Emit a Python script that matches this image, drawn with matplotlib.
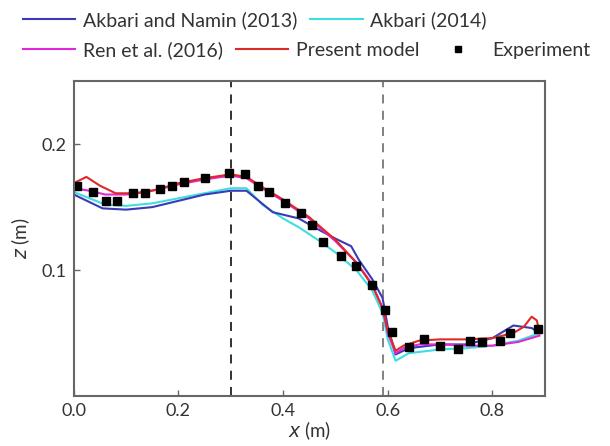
import matplotlib
matplotlib.use("Agg")
import matplotlib.pyplot as plt
from matplotlib.lines import Line2D

plt.rcParams['font.family'] = ['Lato', 'DejaVu Sans']

# experiment
exp_x = [0.007, 0.037, 0.061, 0.083, 0.114, 0.137, 0.165, 0.187, 0.21, 0.25,
         0.296, 0.328, 0.352, 0.373, 0.404, 0.434, 0.456, 0.477, 0.51, 0.539,
         0.57, 0.594, 0.608, 0.64, 0.67, 0.70, 0.735, 0.758, 0.78, 0.815,
         0.834, 0.888]
exp_z = [0.167, 0.162, 0.155, 0.155, 0.161, 0.161, 0.164, 0.167, 0.170, 0.173,
         0.177, 0.176, 0.167, 0.162, 0.153, 0.145, 0.136, 0.122, 0.111, 0.103,
         0.088, 0.068, 0.051, 0.039, 0.045, 0.040, 0.037, 0.044, 0.043, 0.044,
         0.050, 0.053]

# present model
pm_x = [0, 0.024, 0.05, 0.08, 0.12, 0.16, 0.2, 0.25, 0.3, 0.33, 0.36, 0.4,
        0.45, 0.5, 0.54, 0.57, 0.59, 0.6, 0.615, 0.63, 0.66, 0.7, 0.75, 0.8,
        0.84, 0.86, 0.875, 0.885, 0.89]
pm_z = [0.169, 0.174, 0.167, 0.161, 0.161, 0.164, 0.169, 0.173, 0.176, 0.174,
        0.166, 0.156, 0.142, 0.124, 0.106, 0.088, 0.070, 0.052, 0.036, 0.040,
        0.044, 0.045, 0.045, 0.046, 0.050, 0.055, 0.063, 0.060, 0.050]

# Ren et al. (2016)
ren_x = [0, 0.03, 0.06, 0.1, 0.15, 0.2, 0.25, 0.3, 0.33, 0.36, 0.4, 0.45, 0.5,
         0.54, 0.57, 0.59, 0.6, 0.615, 0.63, 0.66, 0.7, 0.75, 0.8, 0.85, 0.89]
ren_z = [0.165, 0.163, 0.160, 0.160, 0.163, 0.168, 0.172, 0.175, 0.173, 0.165,
         0.155, 0.141, 0.123, 0.106, 0.089, 0.070, 0.050, 0.034, 0.038, 0.041,
         0.041, 0.040, 0.040, 0.043, 0.048]

# Akbari and Namin (2013)
an_x = [0, 0.03, 0.055, 0.1, 0.15, 0.2, 0.25, 0.3, 0.33, 0.38, 0.43, 0.455,
        0.5, 0.53, 0.545, 0.57, 0.59, 0.6, 0.615, 0.64, 0.7, 0.75, 0.8, 0.84,
        0.875, 0.89]
an_z = [0.160, 0.154, 0.149, 0.148, 0.150, 0.155, 0.160, 0.163, 0.163, 0.146,
        0.141, 0.135, 0.125, 0.119, 0.108, 0.093, 0.078, 0.055, 0.033, 0.038,
        0.041, 0.041, 0.046, 0.056, 0.054, 0.050]

# Akbari (2014)
ak_x = [0, 0.03, 0.06, 0.1, 0.15, 0.2, 0.25, 0.3, 0.33, 0.36, 0.4, 0.43, 0.47,
        0.5, 0.54, 0.57, 0.59, 0.6, 0.615, 0.64, 0.7, 0.75, 0.8, 0.85, 0.89]
ak_z = [0.162, 0.157, 0.152, 0.151, 0.153, 0.157, 0.161, 0.165, 0.165, 0.152,
        0.141, 0.134, 0.123, 0.114, 0.100, 0.084, 0.066, 0.045, 0.028, 0.034,
        0.037, 0.038, 0.040, 0.044, 0.050]

vlines_x = [0.3, 0.59]
xticks = [0.0, 0.2, 0.4, 0.6, 0.8]
yticks = [0.1, 0.2]

c_blue = '#3a3ab8'
c_cyan = '#3fdede'
c_mag = '#e028d8'
c_red = '#e02828'
txt = '#333333'

fig = plt.figure(figsize=(6.1, 4.46), dpi=100)
ax = fig.add_axes([0.121, 0.112, 0.772, 0.706])

ax.axvline(vlines_x[0], color='#222222', ls=(0, (5, 4)), lw=1.3, zorder=1)
ax.axvline(vlines_x[1], color='#777777', ls=(0, (5, 4)), lw=1.3, zorder=1)

l_ak, = ax.plot(ak_x, ak_z, color=c_cyan, lw=1.5)
l_an, = ax.plot(an_x, an_z, color=c_blue, lw=1.5)
l_ren, = ax.plot(ren_x, ren_z, color=c_mag, lw=1.5)
l_pm, = ax.plot(pm_x, pm_z, color=c_red, lw=1.5)
l_exp, = ax.plot(exp_x, exp_z, ls='none', marker='s', ms=6, color='black')

ax.set_xlim(0, 0.9)
ax.set_ylim(0, 0.25)
ax.set_xticks(xticks)
ax.set_xticklabels(['%.1f' % v for v in xticks])
ax.set_yticks(yticks)
ax.set_yticklabels(['%.1f' % v for v in yticks])
ax.tick_params(direction='in', length=4, width=1, colors='#666666',
               labelcolor=txt, labelsize=13, pad=5)
for s in ax.spines.values():
    s.set_color('#666666')
    s.set_linewidth(1.5)

ax.set_xlabel('$\\mathit{x}$ (m)', fontsize=13.5, color=txt, labelpad=0)
ax.set_ylabel('$\\mathit{z}$ (m)', fontsize=13.5, color=txt, labelpad=7)

h_exp = Line2D([], [], ls='none', marker='s', ms=5, color='black')
leg_kw = dict(loc='upper left', frameon=False, fontsize=14, handlelength=2.7,
              handletextpad=0.4, columnspacing=0.65, borderpad=0.2)
leg1 = fig.legend([l_an, l_ak], ['Akbari and Namin (2013)', 'Akbari (2014)'],
                  bbox_to_anchor=(0.015, 1.005), ncol=2, **leg_kw)
leg2 = fig.legend([l_ren, l_pm, h_exp], ['Ren et al. (2016)', 'Present model', 'Experiment'],
                  bbox_to_anchor=(0.015, 0.938), ncol=3, **leg_kw)
for lg in (leg1, leg2):
    for t in lg.get_texts():
        t.set_color(txt)

fig.savefig('out.png', dpi=100)
